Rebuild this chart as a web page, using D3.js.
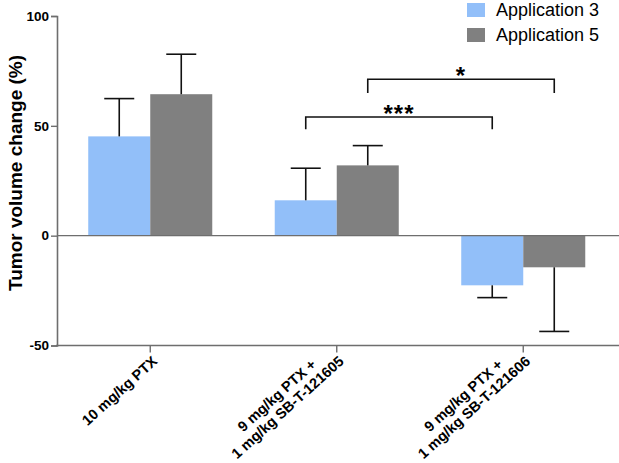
<!DOCTYPE html>
<html>
<head>
<meta charset="utf-8">
<script src="https://cdn.jsdelivr.net/npm/d3@7"></script>
<style>
  html, body { margin: 0; padding: 0; background: #fff; }
  svg { display: block; }
  text { font-family: "Liberation Sans", Arial, sans-serif; }
</style>
</head>
<body>
<svg id="chart" width="619" height="463"></svg>
<script>
// ---- data ----
const categories = ["10 mg/kg PTX", "9 mg/kg PTX + 1 mg/kg SB-T-121605", "9 mg/kg PTX + 1 mg/kg SB-T-121606"];
const categoryLines = [["10 mg/kg PTX"], ["9 mg/kg PTX +", "1 mg/kg SB-T-121605"], ["9 mg/kg PTX +", "1 mg/kg SB-T-121606"]];
const seriesNames = ["Application 3", "Application 5"];
const app3Values = [45.2, 16.1, -22.6];
const app3Errors = [17.2, 14.6, 5.6];
const app5Values = [64.4, 32.0, -14.4];
const app5Errors = [18.2, 9.0, 29.2];
const yTicks = [-50, 0, 50, 100];
const yDomain = [-50, 100];
// significance brackets
const bracketCatFrom = [1, 1];
const bracketCatTo = [2, 2];
const bracketSeries = ["Application 5", "Application 3"];
const bracketTop = [71.2, 54.0];
const bracketLeg = [65.0, 48.4];
const bracketLabels = ["*", "***"];
const colors = ["#92BFF9", "#808080"];

// ---- chart ----
const svg = d3.select("#chart");
const axisColor = "#6e6e6e";

const x0 = d3.scaleBand().domain(categories).range([57, 616.5]).paddingInner(0.335).paddingOuter(0.1675);
const x1 = d3.scaleBand().domain(seriesNames).range([0, x0.bandwidth()]).padding(0);
const y = d3.scaleLinear().domain(yDomain).range([345.5, 16]);
const color = d3.scaleOrdinal().domain(seriesNames).range(colors);

const rows = [];
categories.forEach((c, i) => {
  rows.push({cat: c, s: seriesNames[0], v: app3Values[i], e: app3Errors[i]});
  rows.push({cat: c, s: seriesNames[1], v: app5Values[i], e: app5Errors[i]});
});

// bars
svg.append("g").selectAll("rect").data(rows).join("rect")
  .attr("x", d => x0(d.cat) + x1(d.s))
  .attr("width", x1.bandwidth())
  .attr("y", d => y(Math.max(0, d.v)))
  .attr("height", d => Math.abs(y(d.v) - y(0)))
  .attr("fill", d => color(d.s));

// error bars (outward only)
const eg = svg.append("g").attr("stroke", "#111").attr("stroke-width", 1.6).attr("fill", "none");
rows.forEach(d => {
  const cx = x0(d.cat) + x1(d.s) + x1.bandwidth() / 2;
  const end = d.v >= 0 ? d.v + d.e : d.v - d.e;
  eg.append("line").attr("x1", cx).attr("x2", cx).attr("y1", y(d.v)).attr("y2", y(end));
  eg.append("line").attr("x1", cx - 15).attr("x2", cx + 15).attr("y1", y(end)).attr("y2", y(end));
});

// zero line
svg.append("line").attr("x1", 57).attr("x2", 619).attr("y1", y(0)).attr("y2", y(0))
  .attr("stroke", axisColor).attr("stroke-width", 1.4);

// y axis
const yAxis = svg.append("g").attr("transform", "translate(57,0)")
  .call(d3.axisLeft(y).tickValues(yTicks).tickSize(6).tickPadding(2).tickFormat(d => String(d)));
yAxis.select(".domain").attr("stroke", axisColor).attr("stroke-width", 1.6);
yAxis.selectAll(".tick line").attr("stroke", axisColor).attr("stroke-width", 1.4);
yAxis.selectAll(".tick text").attr("fill", "#000").attr("font-size", "13.5px").attr("font-weight", "bold")
  .attr("font-family", "Liberation Sans, Arial, sans-serif");

// x axis
svg.append("line").attr("x1", 56).attr("x2", 619).attr("y1", y(-50)).attr("y2", y(-50))
  .attr("stroke", axisColor).attr("stroke-width", 1.6);
const xt = svg.append("g");
const angle = 42;
categories.forEach((c, i) => {
  const cx = x0(c) + x0.bandwidth() / 2;
  xt.append("line").attr("x1", cx).attr("x2", cx).attr("y1", y(-50)).attr("y2", y(-50) + 7)
    .attr("stroke", axisColor).attr("stroke-width", 1.4);
  const lines = categoryLines[i];
  const lh = 16;
  const g = xt.append("g").attr("transform", `translate(${cx + 8},${y(-50) + 17}) rotate(${-angle})`);
  const texts = lines.map((t, k) => g.append("text").text(t)
    .attr("font-size", "14.5px").attr("font-weight", "bold").attr("fill", "#000")
    .attr("font-family", "Liberation Sans, Arial, sans-serif")
    .attr("text-anchor", "end"));
  const widths = texts.map(t => t.node().getComputedTextLength());
  const W = Math.max(...widths);
  const n = lines.length;
  texts.forEach((t, k) => {
    t.attr("x", -(W - widths[k]) / 2)
     .attr("y", -(n - 1 - k) * lh);
  });
});

// y title
svg.append("text").attr("transform", "translate(22,173) rotate(-90)")
  .attr("text-anchor", "middle").attr("font-size", "19px").attr("font-weight", "bold").attr("fill", "#000")
  .text("Tumor volume change (%)");

// significance brackets
const bg = svg.append("g");
bracketLabels.forEach((lab, i) => {
  const xa = x0(categories[bracketCatFrom[i]]) + x1(bracketSeries[i]) + x1.bandwidth() / 2;
  const xb = x0(categories[bracketCatTo[i]]) + x1(bracketSeries[i]) + x1.bandwidth() / 2;
  const yt = y(bracketTop[i]), yl = y(bracketLeg[i]);
  bg.append("path").attr("d", `M${xa},${yl}V${yt}H${xb}V${yl}`)
    .attr("fill", "none").attr("stroke", "#111").attr("stroke-width", 1.6);
  bg.append("text").attr("x", (xa + xb) / 2).attr("y", yt + 5)
    .attr("text-anchor", "middle").attr("font-size", "24px").attr("font-weight", "bold").attr("fill", "#000")
    .attr("letter-spacing", "1px")
    .text(lab);
});

// legend
const lg = svg.append("g");
seriesNames.forEach((s, i) => {
  lg.append("rect").attr("x", 467).attr("y", 3 + i * 25).attr("width", 18).attr("height", 14).attr("fill", color(s));
  lg.append("text").attr("x", 496).attr("y", 16 + i * 25).attr("font-size", "18px").attr("fill", "#000").text(s);
});
</script>
</body>
</html>
